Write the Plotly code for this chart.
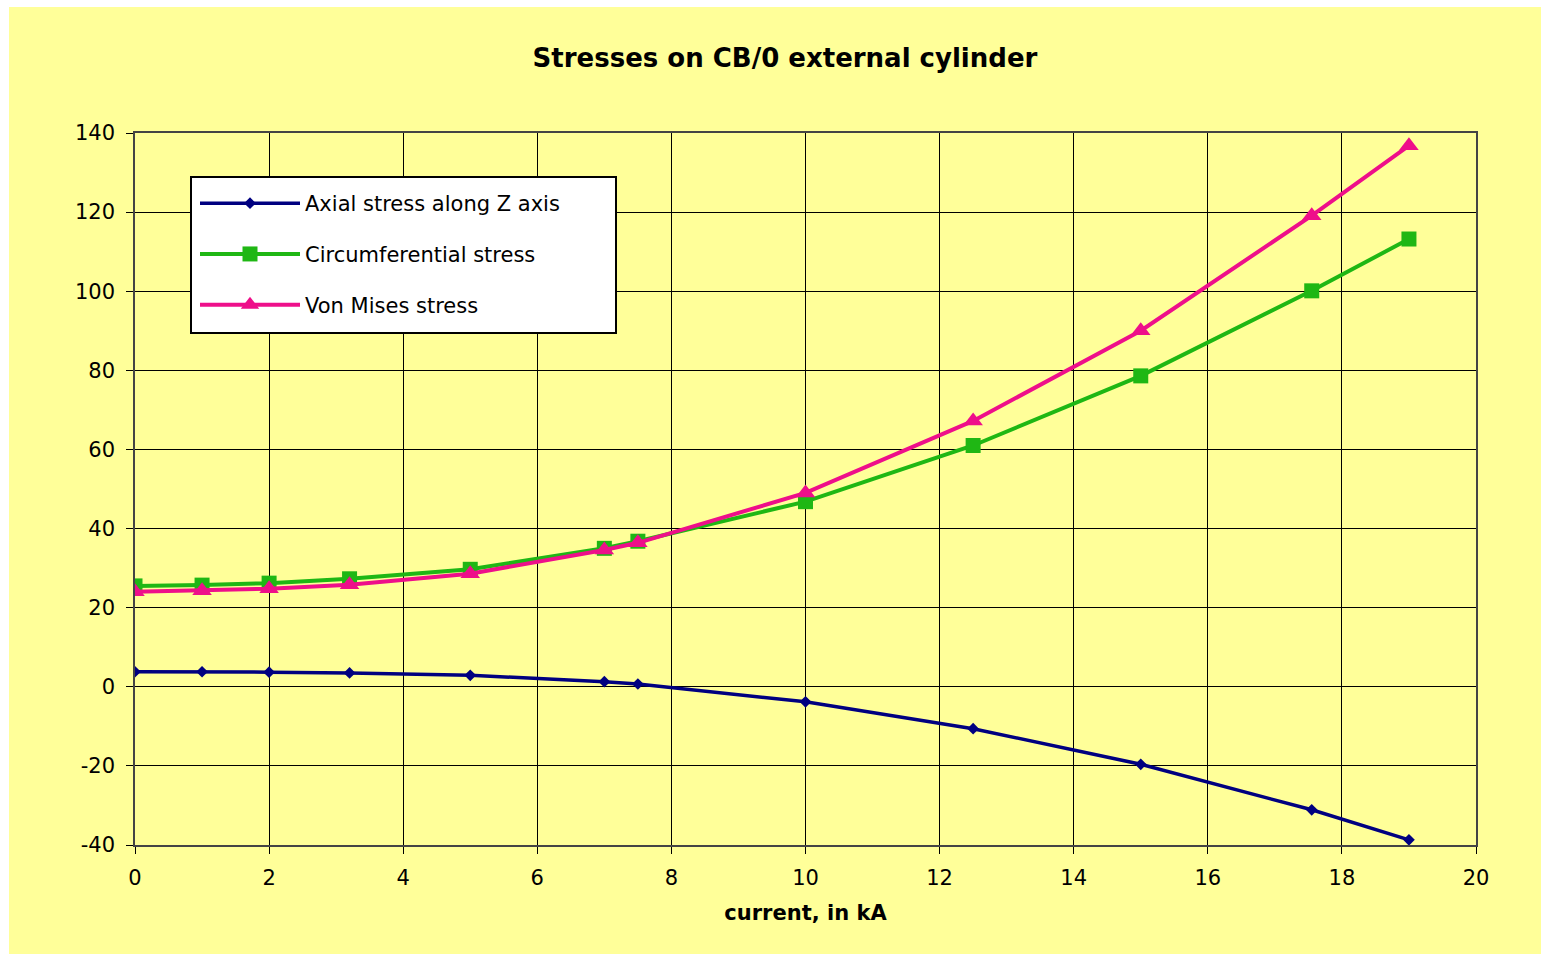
import plotly.graph_objects as go

# current (kA)
current = [0, 1, 2, 3.2, 5, 7, 7.5, 10, 12.5, 15, 17.55, 19]

# stresses (MPa)
axial = [3.8, 3.8, 3.7, 3.5, 2.9, 1.3, 0.7, -3.8, -10.6, -19.6, -31.1, -38.7]
circumferential = [25.5, 25.7, 26.2, 27.3, 29.7, 35.0, 36.8, 46.8, 61.0, 78.6, 100.1, 113.2]
von_mises = [24.0, 24.3, 24.8, 25.8, 28.6, 34.6, 36.4, 49.0, 67.2, 90.0, 119.1, 136.8]

series_names = ["Axial stress along Z axis", "Circumferential stress", "Von Mises stress"]
x_ticks = list(range(0, 21, 2))
y_ticks = list(range(-40, 141, 20))

FONT = "DejaVu Sans"
BG = "#FFFF99"
TXT = 21

# plot area geometry (px)
W, H = 1541, 954
L, R, T, B = 135, 65, 133, 109
PW, PH = W - L - R, H - T - B


def px_x(px):
    return (px - L) / PW


def px_y(py):
    return (H - B - py) / PH


fig = go.Figure()
fig.add_trace(go.Scatter(
    x=current, y=axial, name=series_names[0], mode="lines+markers",
    line=dict(color="#000080", width=3.5),
    marker=dict(symbol="diamond", size=9, color="#000080"),
    legendgroup="a",
))
fig.add_trace(go.Scatter(
    x=current, y=circumferential, name=series_names[1], mode="lines+markers",
    line=dict(color="#1FB714", width=4),
    marker=dict(symbol="square", size=15, color="#1FB714"),
    legendgroup="c",
))
fig.add_trace(go.Scatter(
    x=current, y=von_mises, name=series_names[2], mode="lines+markers",
    line=dict(color="#EE0F8A", width=4),
    marker=dict(symbol="triangle-up", size=17, color="#EE0F8A"),
    legendgroup="v",
))

# yellow chart background with a thin white border around it
fig.add_shape(type="rect", xref="paper", yref="paper",
              x0=px_x(9), x1=px_x(W), y0=px_y(H), y1=px_y(7),
              fillcolor=BG, line=dict(width=0), layer="below")

# legend frame
fig.add_shape(type="rect", xref="paper", yref="paper",
              x0=px_x(191), x1=px_x(616), y0=px_y(333), y1=px_y(177),
              fillcolor="white", line=dict(color="black", width=2), layer="above")

fig.update_layout(
    width=W, height=H,
    margin=dict(l=L, r=R, t=T, b=B),
    paper_bgcolor="white",
    plot_bgcolor=BG,
    font=dict(family=FONT, size=TXT, color="black"),
    title=dict(text="<b>Stresses on CB/0 external cylinder</b>",
               x=785 / W, xanchor="center", y=1 - 58 / H, yanchor="middle",
               font=dict(family=FONT, size=26, color="black")),
    legend=dict(
        x=px_x(195), y=px_y(183), xanchor="left", yanchor="top",
        bgcolor="rgba(0,0,0,0)", borderwidth=0,
        font=dict(family=FONT, size=TXT, color="black"),
        traceorder="grouped", tracegroupgap=20.5,
        itemwidth=100,
    ),
    showlegend=True,
)

fig.update_xaxes(
    range=[0, 20], tickvals=x_ticks, ticktext=[str(v) for v in x_ticks],
    showgrid=True, gridcolor="black", gridwidth=1,
    showline=True, linecolor="#444", linewidth=1.5, mirror=True,
    ticks="outside", ticklen=7, tickcolor="black",
    ticklabelstandoff=6,
    zeroline=False,
    title=dict(text="<b>current, in kA</b>", font=dict(family=FONT, size=TXT), standoff=16),
    tickfont=dict(family=FONT, size=TXT),
)
fig.update_yaxes(
    range=[-40, 140], tickvals=y_ticks, ticktext=[str(v) for v in y_ticks],
    showgrid=True, gridcolor="black", gridwidth=1,
    showline=True, linecolor="#444", linewidth=1.5, mirror=True,
    ticks="outside", ticklen=7, tickcolor="black",
    ticklabelstandoff=7,
    zeroline=False,
    tickfont=dict(family=FONT, size=TXT),
)

fig.write_html("out.html")
